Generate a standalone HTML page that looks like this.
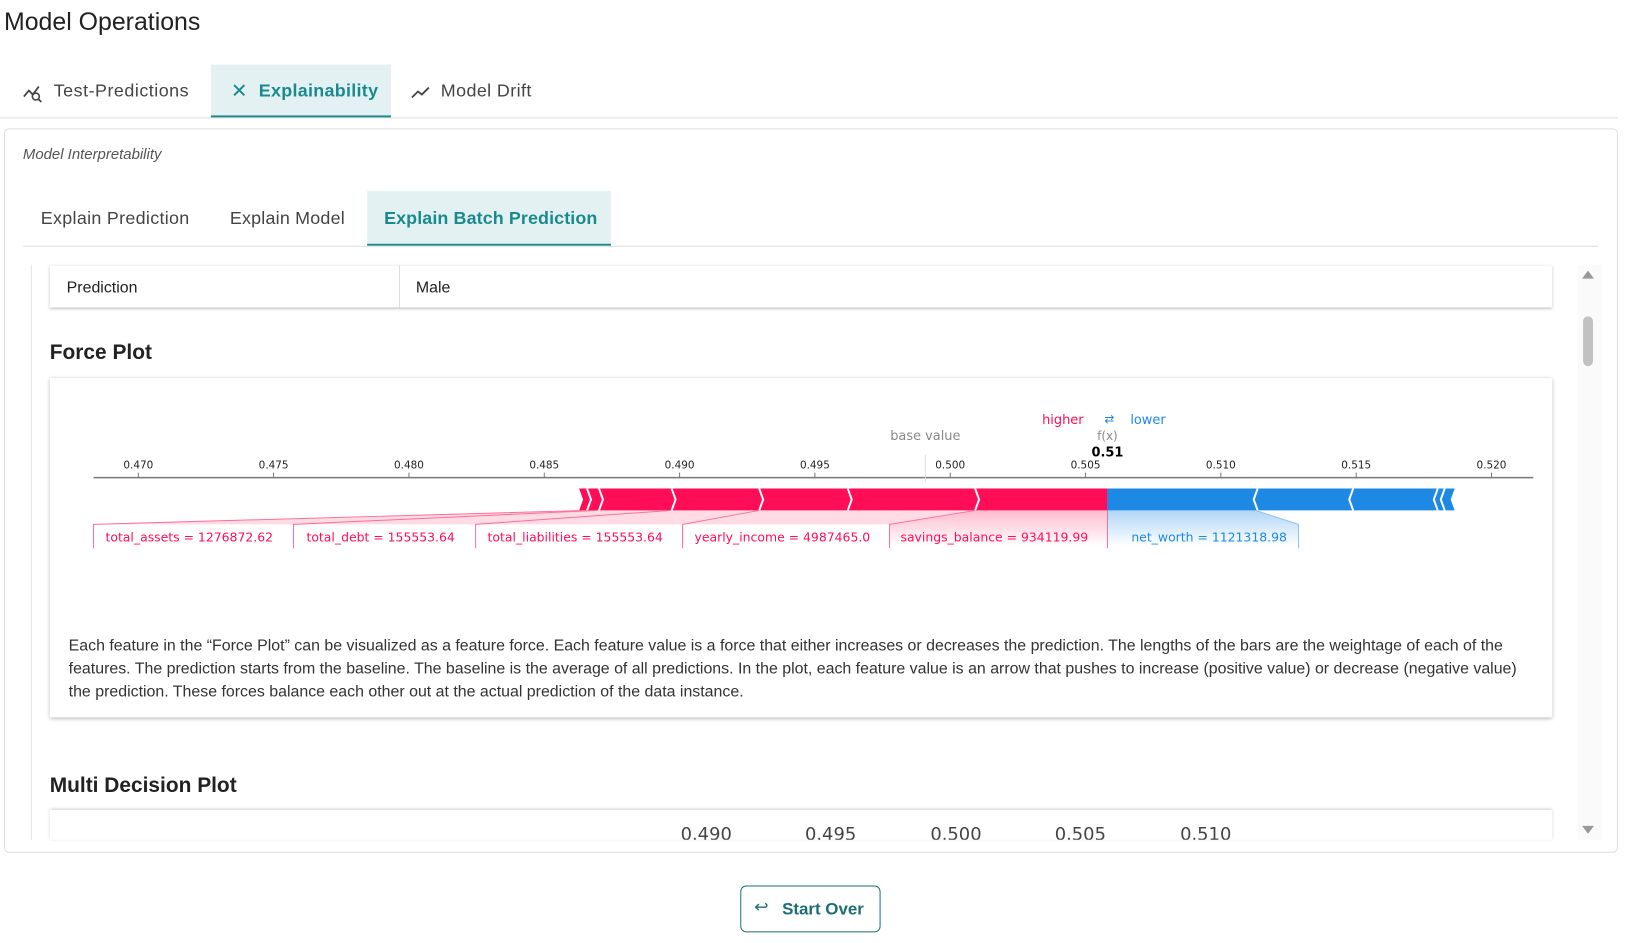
<!DOCTYPE html>
<html><head><meta charset="utf-8"><style>
body{margin:0;width:1626px;height:943px;background:#fff;font-family:"Liberation Sans",Roboto,sans-serif;position:relative;overflow:hidden;color:#222}
#w{position:absolute;left:0;top:0;width:1626px;height:943px;transform:scale(0.995);transform-origin:0 0}
.a{position:absolute;white-space:nowrap}
</style></head><body><div id="w">
<div class="a" style="left:4px;top:8px;font-size:25px;color:#222">Model Operations</div>
<div class="a" style="left:212px;top:65px;width:181px;height:51px;background:#e3f1f2;border-bottom:2px solid #1a8a8f"></div>
<div class="a" style="left:0;top:118px;width:1626px;height:1px;background:#ddd"></div>
<svg class="a" style="left:22px;top:83px" width="22" height="20"><path d="M2 14 L7 8 L11 12 L17 4" stroke="#444" stroke-width="1.8" fill="none"/><circle cx="14" cy="14" r="3.5" stroke="#444" stroke-width="1.6" fill="none"/><path d="M16.5 16.5 L19.5 19.5" stroke="#444" stroke-width="1.8"/></svg>
<div class="a" style="left:54px;top:81px;font-size:18px;color:#444;letter-spacing:.5px">Test-Predictions</div>
<div class="a" style="left:232px;top:79px;font-size:20px;color:#1a8a8f">✕</div>
<div class="a" style="left:260px;top:81px;font-size:18px;color:#1a8a8f;font-weight:bold;letter-spacing:.3px">Explainability</div>
<svg class="a" style="left:412px;top:85px" width="22" height="16"><path d="M2 13 L8 7 L12 10 L19 3" stroke="#444" stroke-width="1.8" fill="none"/></svg>
<div class="a" style="left:443px;top:81px;font-size:18px;color:#444;letter-spacing:.4px">Model Drift</div>

<div class="a" style="left:4px;top:129px;width:1620px;height:726px;border:1px solid #ddd;border-radius:5px"></div>
<div class="a" style="left:23px;top:147px;font-size:15px;font-style:italic;color:#555">Model Interpretability</div>
<div class="a" style="left:369px;top:192px;width:245px;height:53px;background:#e3f1f2;border-bottom:2px solid #1a8a8f"></div>
<div class="a" style="left:23px;top:247px;width:1583px;height:1px;background:#ddd"></div>
<div class="a" style="left:41px;top:209px;font-size:18px;color:#444;letter-spacing:.3px">Explain Prediction</div>
<div class="a" style="left:231px;top:209px;font-size:18px;color:#444;letter-spacing:.2px">Explain Model</div>
<div class="a" style="left:386px;top:209px;font-size:18px;color:#1a8a8f;font-weight:bold;letter-spacing:.1px">Explain Batch Prediction</div>

<div class="a" style="left:31px;top:266px;width:1px;height:578px;background:#e5e5e5"></div>
<div class="a" style="left:1586px;top:266px;width:24px;height:578px;background:#fafafa"></div>
<div class="a" style="left:1591px;top:318px;width:10px;height:50px;background:#c1c1c1;border-radius:5px"></div>
<div class="a" style="left:1590px;top:272px;width:0;height:0;border-left:6px solid transparent;border-right:6px solid transparent;border-bottom:8px solid #999"></div>
<div class="a" style="left:1590px;top:830px;width:0;height:0;border-left:6px solid transparent;border-right:6px solid transparent;border-top:8px solid #999"></div>

<div class="a" style="left:50px;top:267px;width:1510px;height:42px;background:#fff;box-shadow:0 1px 3px rgba(0,0,0,.3)"></div>
<div class="a" style="left:401px;top:267px;width:1px;height:42px;background:#ddd"></div>
<div class="a" style="left:67px;top:281px;font-size:16px">Prediction</div>
<div class="a" style="left:418px;top:281px;font-size:16px">Male</div>

<div class="a" style="left:50px;top:343px;font-size:21px;font-weight:bold">Force Plot</div>
<div class="a" style="left:50px;top:380px;width:1510px;height:341px;background:#fff;box-shadow:0 1px 4px rgba(0,0,0,.3)"></div>

<svg class="a" style="left:0;top:1px" width="1626" height="943" font-family="DejaVu Sans,sans-serif">
<defs>
<linearGradient id="rg" x1="0" y1="0" x2="0" y2="1"><stop offset="0" stop-color="#ff0d57" stop-opacity=".4"/><stop offset="1" stop-color="#ff0d57" stop-opacity="0"/></linearGradient>
<linearGradient id="bg" x1="0" y1="0" x2="0" y2="1"><stop offset="0" stop-color="#1e88e5" stop-opacity=".35"/><stop offset="1" stop-color="#1e88e5" stop-opacity="0"/></linearGradient>
</defs>
<line x1="94" y1="479" x2="1541" y2="479" stroke="#777" stroke-width="1.5"/>
<g font-size="10.5" fill="#222" text-anchor="middle">
<text x="139" y="470">0.470</text><line x1="139" y1="474" x2="139" y2="479" stroke="#777"/>
<text x="275" y="470">0.475</text><line x1="275" y1="474" x2="275" y2="479" stroke="#777"/>
<text x="411" y="470">0.480</text><line x1="411" y1="474" x2="411" y2="479" stroke="#777"/>
<text x="547" y="470">0.485</text><line x1="547" y1="474" x2="547" y2="479" stroke="#777"/>
<text x="683" y="470">0.490</text><line x1="683" y1="474" x2="683" y2="479" stroke="#777"/>
<text x="819" y="470">0.495</text><line x1="819" y1="474" x2="819" y2="479" stroke="#777"/>
<text x="955" y="470">0.500</text><line x1="955" y1="474" x2="955" y2="479" stroke="#777"/>
<text x="1091" y="470">0.505</text><line x1="1091" y1="474" x2="1091" y2="479" stroke="#777"/>
<text x="1227" y="470">0.510</text><line x1="1227" y1="474" x2="1227" y2="479" stroke="#777"/>
<text x="1363" y="470">0.515</text><line x1="1363" y1="474" x2="1363" y2="479" stroke="#777"/>
<text x="1499" y="470">0.520</text><line x1="1499" y1="474" x2="1499" y2="479" stroke="#777"/>
</g>
<line x1="930" y1="456" x2="930" y2="484" stroke="#ddd"/>
<text x="930" y="441" font-size="13" fill="#888" text-anchor="middle">base value</text>
<text x="1113" y="441" font-size="12" fill="#888" text-anchor="middle">f(x)</text>
<text x="1113" y="458" font-size="13" font-weight="bold" fill="#000" text-anchor="middle">0.51</text>
<text x="1089" y="425" font-size="13" fill="#ff0d57" text-anchor="end">higher</text>
<text x="1115" y="424" font-size="12" fill="#1e88e5" text-anchor="middle">⇄</text>
<text x="1136" y="425" font-size="13" fill="#1e88e5">lower</text>
<polygon points="582,490 1113,490 1113,512 582,512 586,501" fill="#ff0d57"/>
<g stroke="#fff" stroke-width="2" fill="none">
<path d="M590 490 L594 501 L590 512"/><path d="M602 490 L606 501 L602 512"/><path d="M675 490 L679 501 L675 512"/><path d="M763 490 L767 501 L763 512"/><path d="M852 490 L856 501 L852 512"/><path d="M980 490 L984 501 L980 512"/>
</g>
<polygon points="1113,490 1462,490 1458,501 1462,512 1113,512" fill="#1e88e5"/>
<g stroke="#fff" stroke-width="2" fill="none">
<path d="M1264 490 L1260 501 L1264 512"/><path d="M1360 490 L1356 501 L1360 512"/><path d="M1445 490 L1441 501 L1445 512"/><path d="M1452 490 L1448 501 L1452 512"/>
</g>
<polygon points="894,526 980,512 1113,512 1113,548 894,548" fill="url(#rg)" opacity=".7"/>
<polygon points="94,526 588,512 980,512 894,526" fill="#ff0d57" opacity=".15"/>
<g stroke="#ff6d95" stroke-width="1" fill="none">
<path d="M94 550 L94 526 L588 512"/><path d="M295 550 L295 526 L600 512"/><path d="M478 550 L478 526 L674 512"/><path d="M686 550 L686 526 L763 512"/><path d="M894 550 L894 526 L980 512"/>
<path d="M1113 512 L1113 550"/>
</g>
<polygon points="1113,512 1262,512 1305,526 1305,548 1113,548" fill="url(#bg)"/>
<path d="M1262 512 L1305 526 L1305 550" stroke="#8ec1f0" fill="none"/>
<g font-size="12.5" fill="#ff0d57">
<text x="106" y="543">total_assets = 1276872.62</text>
<text x="308" y="543">total_debt = 155553.64</text>
<text x="490" y="543">total_liabilities = 155553.64</text>
<text x="698" y="543">yearly_income = 4987465.0</text>
<text x="905" y="543">savings_balance = 934119.99</text>
</g>
<text x="1137" y="543" font-size="12.5" fill="#1e88e5">net_worth = 1121318.98</text>
</svg>

<div class="a" style="left:69px;top:638px;width:1480px;font-size:16px;line-height:23px;white-space:normal;color:#333">Each feature in the “Force Plot” can be visualized as a feature force. Each feature value is a force that either increases or decreases the prediction. The lengths of the bars are the weightage of each of the features. The prediction starts from the baseline. The baseline is the average of all predictions. In the plot, each feature value is an arrow that pushes to increase (positive value) or decrease (negative value) the prediction. These forces balance each other out at the actual prediction of the data instance.</div>

<div class="a" style="left:50px;top:778px;font-size:21px;font-weight:bold">Multi Decision Plot</div>
<div class="a" style="left:50px;top:814px;width:1510px;height:30px;background:#fff;box-shadow:0 -1px 3px rgba(0,0,0,.2);overflow:hidden">
<div class="a" style="left:634px;top:14px;font-size:18px;color:#444;font-family:'DejaVu Sans',sans-serif">0.490</div>
<div class="a" style="left:759px;top:14px;font-size:18px;color:#444;font-family:'DejaVu Sans',sans-serif">0.495</div>
<div class="a" style="left:885px;top:14px;font-size:18px;color:#444;font-family:'DejaVu Sans',sans-serif">0.500</div>
<div class="a" style="left:1010px;top:14px;font-size:18px;color:#444;font-family:'DejaVu Sans',sans-serif">0.505</div>
<div class="a" style="left:1136px;top:14px;font-size:18px;color:#444;font-family:'DejaVu Sans',sans-serif">0.510</div>
</div>

<div class="a" style="left:744px;top:890px;width:139px;height:45px;border:1.5px solid #1a6f74;border-radius:6px"></div>
<div class="a" style="left:758px;top:902px;font-size:17px;color:#1a6f74">↩</div>
<div class="a" style="left:786px;top:904px;font-size:17px;color:#1a6f74;font-weight:bold">Start Over</div>
</div></body></html>
